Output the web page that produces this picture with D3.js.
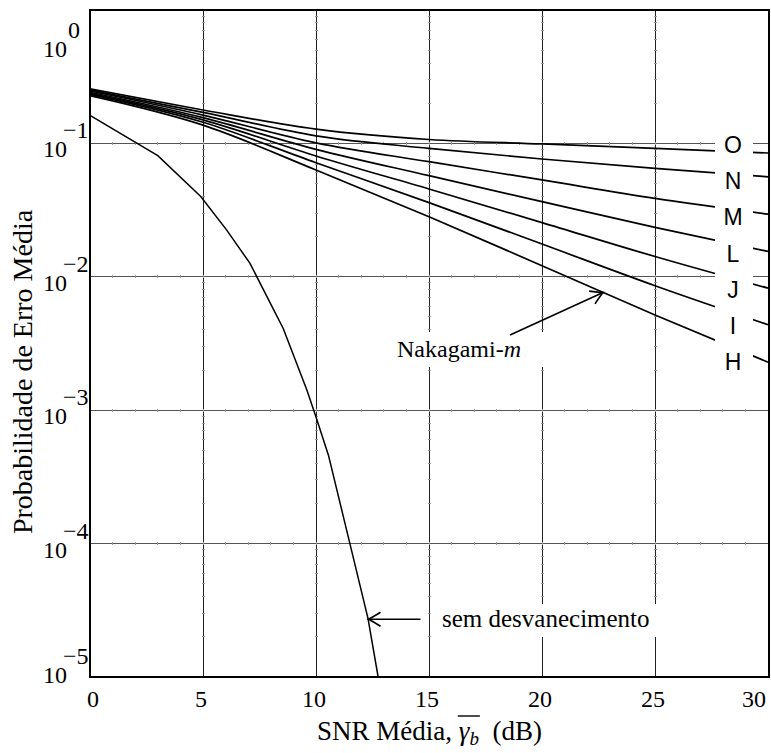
<!DOCTYPE html>
<html lang="pt">
<head>
    <meta charset="UTF-8">
    <title>Probabilidade de Erro Média</title>
    <script src="https://cdn.jsdelivr.net/npm/d3@7"></script>
    <style>
        html, body {
            margin: 0;
            padding: 0;
            background: #fff;
            overflow: hidden;
        }
        text { font-family: "Liberation Serif", "Times New Roman", serif; fill: #000; }
    </style>
</head>
<body>
</body>
<script>
    let width = 771;
    let height = 753;

    // dados (SNR em dB, probabilidade)
    let snr = [0, 5, 10, 15, 20, 25, 30];
    let curveNames = ['O', 'N', 'M', 'L', 'J', 'I', 'H'];
    let pO = [0.256, 0.178, 0.128, 0.107, 0.0991, 0.0918, 0.0847];
    let pN = [0.251, 0.171, 0.114, 0.0918, 0.0764, 0.0650, 0.0562];
    let pM = [0.247, 0.163, 0.101, 0.0729, 0.0532, 0.0387, 0.0295];
    let pL = [0.242, 0.156, 0.0903, 0.0573, 0.0366, 0.0235, 0.0155];
    let pJ = [0.237, 0.150, 0.0805, 0.0455, 0.0255, 0.0142, 0.00822];
    let pI = [0.233, 0.144, 0.0716, 0.0360, 0.0176, 0.00857, 0.00437];
    let pH = [0.228, 0.137, 0.0632, 0.0282, 0.0121, 0.00518, 0.00229];

    // curva sem desvanecimento
    let snrAwgn = [0, 3, 4.9, 6.05, 7.08, 8.55, 9.6, 10.0, 10.55, 11.5, 12.3, 12.75];
    let pAwgn = [0.162, 0.081, 0.040, 0.0224, 0.0126, 0.0041, 0.00141, 0.00089, 0.00046, 1.0e-4, 2.75e-5, 1.0e-5];

    let xTicks = [0, 5, 10, 15, 20, 25, 30];
    let yTicks = [1, 1e-1, 1e-2, 1e-3, 1e-4, 1e-5];
    let yExp = ['0', '−1', '−2', '−3', '−4', '−5'];

    let series = [pO, pN, pM, pL, pJ, pI, pH];

    let x = d3.scaleLinear().domain([0, 30]).range([90, 768]);
    let y = d3.scaleLog().domain([1e-5, 1]).range([677, 10]);

    let svg = d3.select('body').append('svg')
        .attr('width', width)
        .attr('height', height);

    // grade
    let grid = svg.append('g').attr('shape-rendering', 'crispEdges');
    grid.selectAll('line.h')
        .data(yTicks.slice(1, 5))
        .enter().append('line')
        .attr('x1', x(0)).attr('x2', x(30))
        .attr('y1', d => y(d)).attr('y2', d => y(d))
        .attr('stroke', '#555').attr('stroke-width', 1);
    grid.selectAll('line.v')
        .data(xTicks.slice(1, 6))
        .enter().append('line')
        .attr('x1', d => x(d)).attr('x2', d => x(d))
        .attr('y1', y(1)).attr('y2', y(1e-5))
        .attr('stroke', '#222').attr('stroke-width', 1);

    // pequenos traços ao longo da grade
    let minorDb = d3.range(1, 30);
    yTicks.slice(1, 5).forEach(v => {
        grid.selectAll(null).data(minorDb).enter().append('line')
            .attr('x1', d => x(d)).attr('x2', d => x(d))
            .attr('y1', y(v) - 1.5).attr('y2', y(v) + 1.5)
            .attr('stroke', '#999');
    });
    let minorP = [];
    for (let e = -5; e < 0; e++) for (let k = 2; k < 10; k++) minorP.push(k * Math.pow(10, e));
    xTicks.slice(1, 6).forEach(v => {
        grid.selectAll(null).data(minorP).enter().append('line')
            .attr('x1', x(v) - 1.5).attr('x2', x(v) + 1.5)
            .attr('y1', d => y(d)).attr('y2', d => y(d))
            .attr('stroke', '#999');
    });

    let line = d3.line()
        .x(d => x(d[0]))
        .y(d => y(d[1]))
        .curve(d3.curveMonotoneX);

    let gCurves = svg.append('g');
    gCurves.selectAll('path.nak')
        .data(series)
        .enter().append('path')
        .attr('d', s => line(snr.map((v, i) => [v, s[i]])))
        .attr('fill', 'none')
        .attr('stroke', '#000')
        .attr('stroke-width', 1.7);

    gCurves.append('path')
        .attr('d', line.curve(d3.curveLinear)(snrAwgn.map((v, i) => [v, pAwgn[i]])))
        .attr('fill', 'none')
        .attr('stroke', '#000')
        .attr('stroke-width', 1.5);

    // rótulos das curvas com fundo branco
    svg.append('rect')
        .attr('x', 715).attr('y', 128).attr('width', 38).attr('height', 248)
        .attr('fill', '#fff');
    svg.selectAll('text.lab')
        .data(curveNames)
        .enter().append('text')
        .attr('x', 733)
        .attr('y', (d, i) => 153 + i * 36.2)
        .attr('text-anchor', 'middle')
        .style('font-family', '"Liberation Sans", Arial, sans-serif')
        .style('font-size', '23px')
        .text(d => d);

    // anotações
    svg.append('rect').attr('x', 392).attr('y', 332).attr('width', 156).attr('height', 35).attr('fill', '#fff');
    svg.append('text')
        .attr('x', 397).attr('y', 357)
        .style('font-size', '24px')
        .text('Nakagami-')
        .append('tspan').style('font-style', 'italic').text('m');

    svg.append('rect').attr('x', 436).attr('y', 604).attr('width', 226).attr('height', 33).attr('fill', '#fff');
    svg.append('text')
        .attr('x', 442).attr('y', 627)
        .style('font-size', '25px')
        .text('sem desvanecimento');

    function arrow(x0, y0, x1, y1) {
        let ang = Math.atan2(y1 - y0, x1 - x0);
        let g = svg.append('g')
            .attr('transform', `translate(${x1},${y1}) rotate(${ang * 180 / Math.PI})`);
        g.append('line')
            .attr('x1', -Math.hypot(x1 - x0, y1 - y0)).attr('y1', 0)
            .attr('x2', 0).attr('y2', 0)
            .attr('stroke', '#000').attr('stroke-width', 1.6);
        g.append('path')
            .attr('d', 'M-12,-7 Q-4,-2 0,0 Q-4,2 -12,7')
            .attr('fill', 'none').attr('stroke', '#000').attr('stroke-width', 1.6);
    }
    arrow(510, 335, 603, 292.5);
    arrow(420.5, 619.3, 368.5, 619.3);

    // moldura
    svg.append('rect')
        .attr('x', x(0)).attr('y', y(1))
        .attr('width', x(30) - x(0) + 1).attr('height', y(1e-5) - y(1))
        .attr('fill', 'none').attr('stroke', '#000').attr('stroke-width', 2);

    // rótulos do eixo x
    svg.selectAll('text.xt')
        .data(xTicks)
        .enter().append('text')
        .attr('x', d => Math.max(93, Math.min(754, x(d) - 2)))
        .attr('y', 707)
        .attr('text-anchor', 'middle')
        .style('font-size', '24px')
        .text(d => d);

    // rótulos do eixo y: 10^n
    let gy = svg.selectAll('g.yt')
        .data(yTicks)
        .enter().append('g');
    gy.append('text')
        .attr('x', 43)
        .attr('y', d => Math.max(57, Math.min(683, y(d) + 14)))
        .style('font-size', '24px')
        .text('10');
    gy.append('text')
        .attr('x', (d, i) => i === 0 ? 68 : 63)
        .attr('y', d => Math.max(57, Math.min(683, y(d) + 14)) - 19)
        .style('font-size', '24px')
        .text((d, i) => yExp[i]);

    // títulos dos eixos
    let xt = svg.append('text')
        .attr('x', 317).attr('y', 740)
        .style('font-size', '27px');
    xt.append('tspan').text('SNR Média, ');
    xt.append('tspan').style('font-style', 'italic').text('γ');
    xt.append('tspan').style('font-style', 'italic').style('font-size', '19px').attr('dy', 5).text('b');
    xt.append('tspan').attr('dy', -5).text('\u00a0\u00a0(dB)');
    let n = xt.node();
    let gx0 = n.getStartPositionOfChar(11).x - 1;
    let gx1 = n.getEndPositionOfChar(12).x + 1;
    svg.append('line')
        .attr('x1', gx0).attr('x2', gx1)
        .attr('y1', 716).attr('y2', 716)
        .attr('stroke', '#000').attr('stroke-width', 1.4);

    svg.append('text')
        .attr('transform', 'translate(32,372) rotate(-90)')
        .attr('text-anchor', 'middle')
        .style('font-size', '28px')
        .text('Probabilidade de Erro Média');
</script>
</html>
